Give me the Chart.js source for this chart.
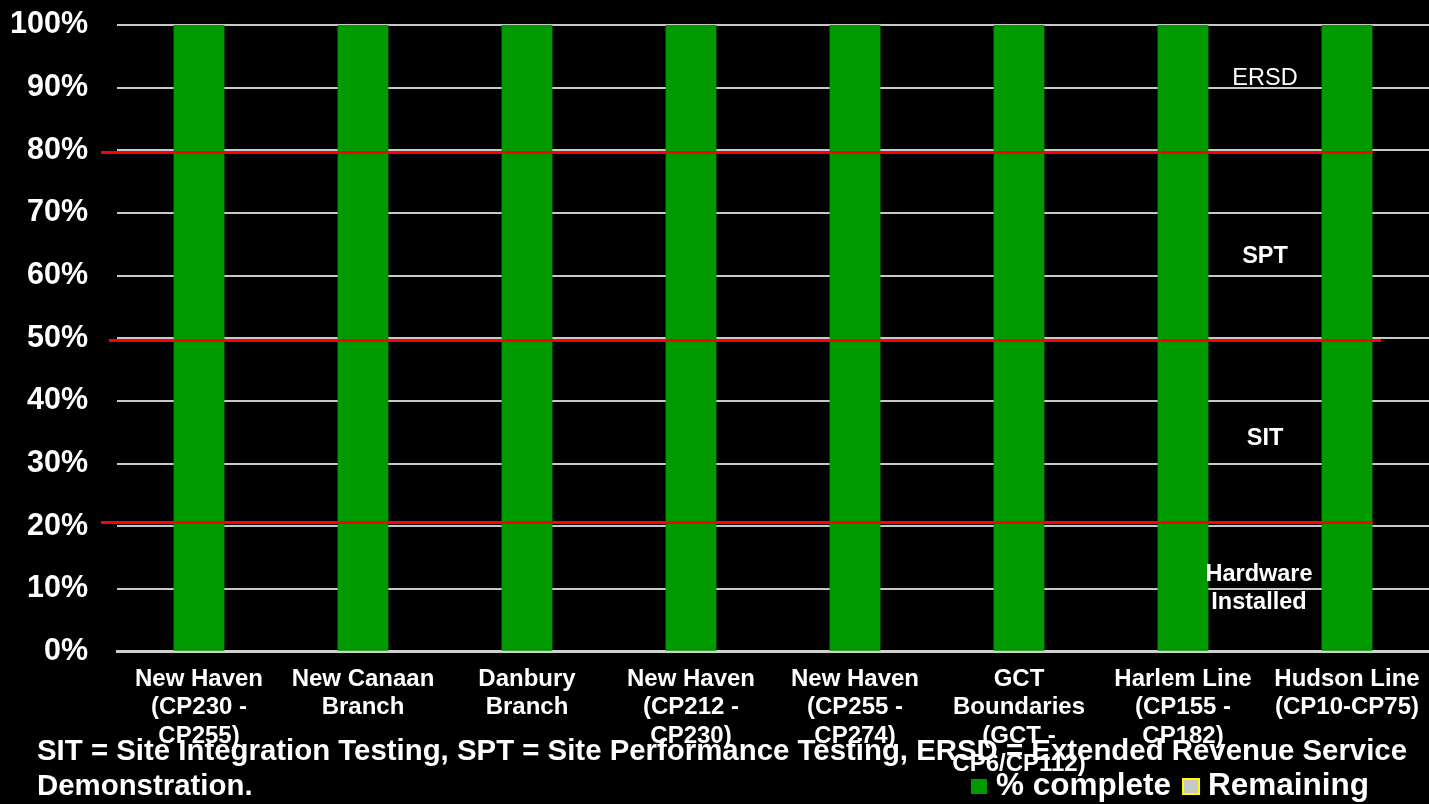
<!DOCTYPE html>
<html>
<head>
<meta charset="utf-8">
<script src="https://cdn.jsdelivr.net/npm/chart.js@4"></script>
<style>
  html, body { margin: 0; padding: 0; background: #000; }
  #wrap { width: 1429px; height: 804px; position: relative; }
</style>
</head>
<body>
<div id="wrap"><canvas id="chart"></canvas></div>
<script>
const FONT = "Arial, 'Liberation Sans', sans-serif";

const categories = [
  ["New Haven", "(CP230 -", "CP255)"],
  ["New Canaan", "Branch"],
  ["Danbury", "Branch"],
  ["New Haven", "(CP212 -", "CP230)"],
  ["New Haven", "(CP255 -", "CP274)"],
  ["GCT", "Boundaries", "(GCT -", "CP6/CP112)"],
  ["Harlem Line", "(CP155 -", "CP182)"],
  ["Hudson Line", "(CP10-CP75)"],
];
const percentComplete = [100, 100, 100, 100, 100, 100, 100, 100];
const remaining = [0, 0, 0, 0, 0, 0, 0, 0];

// stage boundaries (red lines) and stage names between them
const stageLines = [20.7, 49.7, 79.7];
const stageNames = [["Hardware", "Installed"], ["SIT"], ["SPT"], ["ERSD"]];
const stageNameAt = [10, 34, 63, 91.5];

const footnote = [
  "SIT = Site Integration Testing, SPT = Site Performance Testing, ERSD = Extended Revenue Service",
  "Demonstration.",
];

const stagePlugin = {
  id: "stages",
  afterDatasetsDraw(chart) {
    const { ctx, chartArea, scales } = chart;
    const y = scales.y, x = scales.x;
    ctx.save();
    // red boundary lines
    ctx.strokeStyle = "#ff0000";
    ctx.lineWidth = 3;
    stageLines.forEach((v, i) => {
      const py = Math.round(y.getPixelForValue(v)) + 0.5;
      const shift = i === 1 ? 8 : 0;
      ctx.beginPath();
      ctx.moveTo(chartArea.left - 16 + shift, py);
      ctx.lineTo(chartArea.right - 56 + shift, py);
      ctx.stroke();
    });
    // stage names in the gap between the last two bars
    const cx = (x.getPixelForValue(6) + x.getPixelForValue(7)) / 2;
    ctx.fillStyle = "#ffffff";
    ctx.textAlign = "center";
    ctx.textBaseline = "middle";
    stageNames.forEach((lines, i) => {
      ctx.font = (i === 3 ? "" : "bold ") + "23.5px " + FONT;
      const py = y.getPixelForValue(stageNameAt[i]);
      const lh = 28;
      lines.forEach((t, j) => {
        ctx.fillText(t, cx - (i === 0 ? 6 : 0), py + (j - (lines.length - 1) / 2) * lh);
      });
    });
    ctx.restore();
  },
  afterDraw(chart) {
    const { ctx } = chart;
    ctx.save();
    ctx.fillStyle = "#ffffff";
    ctx.textAlign = "left";
    ctx.textBaseline = "middle";
    ctx.font = "bold 29.4px " + FONT;
    footnote.forEach((t, i) => ctx.fillText(t, 37, 752 + i * 35));

    // legend
    const items = chart.data.datasets;
    let lx = 971;
    const ly = 786;
    ctx.font = "bold 31.5px " + FONT;
    items.forEach((ds) => {
      ctx.fillStyle = ds.backgroundColor;
      ctx.fillRect(lx, ly - 7, 16, 15);
      if (ds.borderWidth) {
        ctx.strokeStyle = ds.borderColor;
        ctx.lineWidth = 2;
        ctx.strokeRect(lx, ly - 7, 16, 15);
      }
      ctx.fillStyle = "#ffffff";
      ctx.fillText(ds.label, lx + 25, ly);
      lx += 25 + ctx.measureText(ds.label).width + 12;
    });
    ctx.restore();
  },
};

new Chart(document.getElementById("chart"), {
  type: "bar",
  data: {
    labels: categories,
    datasets: [
      {
        label: "% complete",
        data: percentComplete,
        backgroundColor: "#009900",
        borderWidth: 0,
        categoryPercentage: 1,
        barPercentage: 0.31,
      },
      {
        label: "Remaining",
        data: remaining,
        backgroundColor: "#c8c8c8",
        borderColor: "#ffff00",
        borderWidth: 1,
        categoryPercentage: 1,
        barPercentage: 0.31,
      },
    ],
  },
  options: {
    responsive: true,
    maintainAspectRatio: false,
    animation: false,
    layout: { padding: { top: 25, right: 0, bottom: 26, left: 0 } },
    plugins: {
      legend: { display: false },
      tooltip: { enabled: false },
    },
    scales: {
      x: {
        stacked: true,
        // invisible tick marks keep the labels off the axis line
        grid: { drawOnChartArea: false, drawTicks: true, tickLength: 14, tickColor: "transparent" },
        border: { color: "#d0d0d0", width: 3 },
        ticks: {
          color: "#ffffff",
          font: { family: FONT, size: 24, weight: "bold", lineHeight: 1.17 },
          maxRotation: 0,
          autoSkip: false,
          padding: 0,
        },
      },
      y: {
        stacked: true,
        min: 0,
        max: 100,
        grid: { color: "#c8c8c8", lineWidth: 2, drawTicks: true, tickLength: 29, tickColor: "transparent" },
        border: { display: false },
        afterFit: (scale) => { scale.width = 117; },
        ticks: {
          stepSize: 10,
          color: "#ffffff",
          font: { family: FONT, size: 30.5, weight: "bold" },
          padding: 0,
          callback: (v) => v + "%",
        },
      },
    },
  },
  plugins: [stagePlugin],
});
</script>
</body>
</html>
